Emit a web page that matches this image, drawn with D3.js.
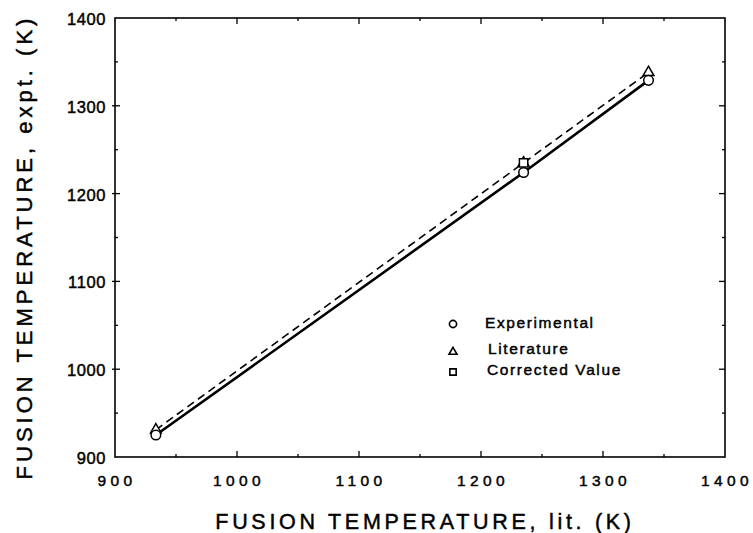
<!DOCTYPE html>
<html>
<head>
<meta charset="utf-8">
<script src="https://cdn.jsdelivr.net/npm/d3@7"></script>
<style>
  html, body { margin: 0; padding: 0; background: #fff; }
  svg { display: block; }
  text { font-family: "Liberation Sans", Arial, Helvetica, sans-serif; fill: #000; stroke: #000; stroke-width: 0.45; }
</style>
</head>
<body>
<svg id="chart" width="753" height="533"></svg>
<script>
// ---- data ----
const litTemps = [933.5, 1234.9, 1337.3];          // x: literature fusion temperature (K)
const experimental = [925, 1224, 1329];             // circles, solid line
const literature = [931, 1235, 1338];               // triangles, dashed line
const correctedX = [1234.9];                        // corrected value (square)
const corrected = [1235];
const xTicks = [900, 1000, 1100, 1200, 1300, 1400];
const yTicks = [900, 1000, 1100, 1200, 1300, 1400];
const minorTicks = [950, 1050, 1150, 1250, 1350];
const legendLabels = ["Experimental", "Literature", "Corrected Value"];
const xTitle = "FUSION TEMPERATURE, lit. (K)";
const yTitle = "FUSION TEMPERATURE, expt. (K)";

// ---- layout ----
const L = 115, R = 725, T = 18, B = 457;
const svg = d3.select("#chart");
const x = d3.scaleLinear().domain([900, 1400]).range([L, R]);
const y = d3.scaleLinear().domain([900, 1400]).range([B, T]);

// frame
svg.append("rect").attr("x", L).attr("y", T).attr("width", R - L).attr("height", B - T)
  .attr("fill", "none").attr("stroke", "#000").attr("stroke-width", 1.6);

const tk = svg.append("g").attr("stroke", "#000").attr("stroke-width", 1.3);
// bottom & top ticks (inward)
xTicks.slice(1, -1).forEach(v => {
  tk.append("line").attr("x1", x(v)).attr("x2", x(v)).attr("y1", B).attr("y2", B - 6);
  tk.append("line").attr("x1", x(v)).attr("x2", x(v)).attr("y1", T).attr("y2", T + 6);
});
minorTicks.forEach(v => {
  tk.append("line").attr("x1", x(v)).attr("x2", x(v)).attr("y1", B).attr("y2", B - 3);
  tk.append("line").attr("x1", x(v)).attr("x2", x(v)).attr("y1", T).attr("y2", T + 3);
});
// left & right ticks
yTicks.slice(1, -1).forEach(v => {
  tk.append("line").attr("x1", L - 3).attr("x2", L + 5).attr("y1", y(v)).attr("y2", y(v));
  tk.append("line").attr("x1", R).attr("x2", R - 6).attr("y1", y(v)).attr("y2", y(v));
});
minorTicks.forEach(v => {
  tk.append("line").attr("x1", L).attr("x2", L + 3).attr("y1", y(v)).attr("y2", y(v));
  tk.append("line").attr("x1", R).attr("x2", R - 3).attr("y1", y(v)).attr("y2", y(v));
});

// tick labels
svg.append("g").selectAll("text").data(xTicks).join("text")
  .attr("x", d => x(d) + 2).attr("y", 486)
  .attr("text-anchor", "middle").attr("font-size", 15.5).attr("letter-spacing", 4.4)
  .text(d => d);
svg.append("g").selectAll("text").data(yTicks).join("text")
  .attr("x", 106).attr("y", d => y(d) + 7)
  .attr("text-anchor", "end").attr("font-size", 16.5).attr("letter-spacing", 0.6)
  .text(d => d);

// axis titles
svg.append("text").attr("x", 425).attr("y", 529).attr("text-anchor", "middle")
  .attr("font-size", 21.5).attr("letter-spacing", 3.7).text(xTitle);
svg.append("text").attr("transform", "translate(32,247) rotate(-90)")
  .attr("text-anchor", "middle").attr("font-size", 22).attr("letter-spacing", 4.0).text(yTitle);

// lines
const line = d3.line().x(d => x(d[0])).y(d => y(d[1]));
svg.append("path").datum(d3.zip(litTemps, literature)).attr("d", line)
  .attr("fill", "none").attr("stroke", "#000").attr("stroke-width", 1.6).attr("stroke-dasharray", "8,5");
svg.append("path").datum(d3.zip(litTemps, experimental)).attr("d", line)
  .attr("fill", "none").attr("stroke", "#000").attr("stroke-width", 2.6);

// markers
const tri = d3.symbol().type(d3.symbolTriangle).size(50);
const sq = d3.symbol().type(d3.symbolSquare).size(70);
svg.append("g").selectAll("path").data(d3.zip(litTemps, literature)).join("path")
  .attr("d", tri).attr("transform", d => `translate(${x(d[0])},${y(d[1])})`)
  .attr("fill", "#fff").attr("stroke", "#000").attr("stroke-width", 1.5);
svg.append("g").selectAll("circle").data(d3.zip(litTemps, experimental)).join("circle")
  .attr("cx", d => x(d[0])).attr("cy", d => y(d[1])).attr("r", 4.8)
  .attr("fill", "#fff").attr("stroke", "#000").attr("stroke-width", 1.5);
svg.append("g").selectAll("path").data(d3.zip(correctedX, corrected)).join("path")
  .attr("d", sq).attr("transform", d => `translate(${x(d[0])},${y(d[1])})`)
  .attr("fill", "#fff").attr("stroke", "#000").attr("stroke-width", 1.5);

// legend
const legY = [323, 349, 370];
const lg = svg.append("g");
lg.append("circle").attr("cx", 453).attr("cy", legY[0] + 1).attr("r", 3.6)
  .attr("fill", "#fff").attr("stroke", "#000").attr("stroke-width", 1.6);
lg.append("path").attr("d", d3.symbol().type(d3.symbolTriangle).size(28))
  .attr("transform", `translate(453,${legY[1] + 3})`)
  .attr("fill", "#fff").attr("stroke", "#000").attr("stroke-width", 1.6);
lg.append("path").attr("d", d3.symbol().type(d3.symbolSquare).size(40))
  .attr("transform", `translate(453,${legY[2] + 2})`)
  .attr("fill", "#fff").attr("stroke", "#000").attr("stroke-width", 1.6);
lg.selectAll("text").data(legendLabels).join("text")
  .attr("x", (d, i) => [485, 488, 487][i]).attr("y", (d, i) => legY[i] + 5)
  .attr("font-size", 15.5).attr("letter-spacing", 1.6).text(d => d);
</script>
</body>
</html>
